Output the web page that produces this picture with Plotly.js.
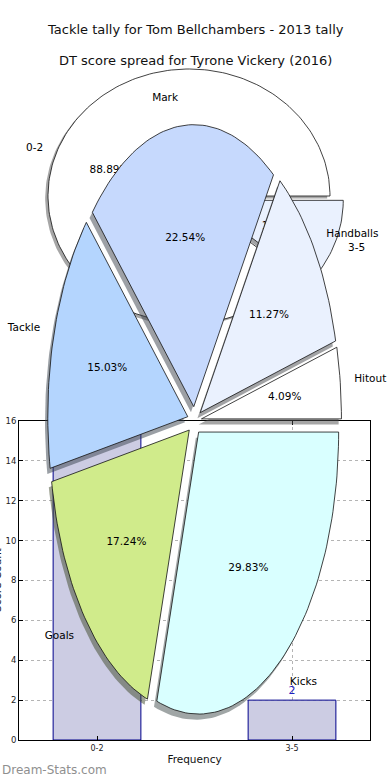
<!DOCTYPE html>
<html><head><meta charset="utf-8">
<script src="https://cdn.plot.ly/plotly-3.0.1.min.js"></script>
<style>html,body{margin:0;padding:0;background:#fff}#chart{width:390px;height:780px}</style>
</head><body><div id="chart"></div>
<script>
// ---- data ----
const titleMain = 'Tackle tally for Tom Bellchambers - 2013 tally';
const titleSub = 'DT score spread for Tyrone Vickery (2016)';

const statLabels = ['Hitout', 'Handballs', 'Mark', 'Tackle', 'Goals', 'Kicks'];
const statPcts = [4.09, 11.27, 22.54, 15.03, 17.24, 29.83];
const statColors = ['#ffffff', '#eaf1fe', '#c6d9fd', '#b4d5fe', '#d0eb8b', '#d9ffff'];
const statExplode = [0.05, 0.05, 0.05, 0.05, 0.05, 0.05];

const bins = ['0-2', '3-5'];
const binCounts = [16, 2];
const binPieColors = ['#ffffff', '#eaf1fe'];
const binExplode = [0, 0.1];

const xTitle = 'Frequency';
const yTitle = 'Score Count';
const watermark = 'Dream-Stats.com';

// ---- layout geometry (pixels) ----
const W = 390, H = 780;
const FONT = 'DejaVu Sans, sans-serif';
const backGeom = {cx: 189, cy: 196, rx: 141, ry: 127};
const frontGeom = {cx: 194.5, cy: 420.7, rx: 140, ry: 282};
const PIE_FONT = 10.5;

function hexRgb(h) {
  return [parseInt(h.slice(1,3),16), parseInt(h.slice(3,5),16), parseInt(h.slice(5,7),16)];
}

function pieTraces(values, labels, colors, explode, xa, ya) {
  const total = values.reduce((a, b) => a + b, 0);
  let start = 0;
  const shadows = [], wedges = [];
  const lab = {x: [], y: [], text: [], pos: []};
  const pct = {x: [], y: [], text: []};
  values.forEach((v, i) => {
    const frac = v / total;
    const t1 = start * 2 * Math.PI, t2 = (start + frac) * 2 * Math.PI;
    const tm = (t1 + t2) / 2;
    const ax = explode[i] * Math.cos(tm), ay = explode[i] * Math.sin(tm);
    const xs = [ax], ys = [ay];
    const n = Math.max(6, Math.ceil(frac * 240));
    for (let k = 0; k <= n; k++) {
      const t = t1 + (t2 - t1) * k / n;
      xs.push(ax + Math.cos(t)); ys.push(ay + Math.sin(t));
    }
    xs.push(ax); ys.push(ay);
    const c = hexRgb(colors[i]);
    shadows.push({
      type: 'scatter', mode: 'lines', xaxis: xa, yaxis: ya,
      x: xs.map(q => q - 0.02), y: ys.map(q => q - 0.02),
      fill: 'toself', fillcolor: `rgba(${Math.round(c[0]*0.3)},${Math.round(c[1]*0.3)},${Math.round(c[2]*0.3)},0.5)`,
      line: {width: 0}, hoverinfo: 'skip'
    });
    wedges.push({
      type: 'scatter', mode: 'lines', xaxis: xa, yaxis: ya,
      x: xs, y: ys, fill: 'toself', fillcolor: colors[i],
      line: {color: '#111', width: 0.8}, hoverinfo: 'skip'
    });
    const lx = ax + 1.1 * Math.cos(tm), ly = ay + 1.1 * Math.sin(tm);
    lab.x.push(lx); lab.y.push(ly); lab.text.push(labels[i]);
    lab.pos.push(lx > 0 ? 'middle right' : 'middle left');
    pct.x.push(ax + 0.6 * Math.cos(tm)); pct.y.push(ay + 0.6 * Math.sin(tm));
    pct.text.push((frac * 100).toFixed(2) + '%');
    start += frac;
  });
  const texts = [
    {type: 'scatter', mode: 'text', xaxis: xa, yaxis: ya, x: lab.x, y: lab.y, text: lab.text,
     textposition: lab.pos, textfont: {family: FONT, size: PIE_FONT, color: '#000'}, hoverinfo: 'skip'},
    {type: 'scatter', mode: 'text', xaxis: xa, yaxis: ya, x: pct.x, y: pct.y, text: pct.text,
     textposition: 'middle center', textfont: {family: FONT, size: PIE_FONT, color: '#000'}, hoverinfo: 'skip'}
  ];
  return shadows.concat(wedges, texts);
}

const backTraces = pieTraces(binCounts, bins, binPieColors, binExplode, 'x', 'y');
const frontTraces = pieTraces(statPcts, statLabels, statColors, statExplode, 'x3', 'y3');

const barTrace = {
  type: 'bar', xaxis: 'x2', yaxis: 'y2', x: bins, y: binCounts, width: 0.45,
  marker: {color: '#ccccE3', line: {color: '#00008b', width: 1}},
  text: binCounts.map(String), textposition: 'outside', cliponaxis: false,
  textfont: {family: FONT, size: 11, color: '#2020c0'}, constraintext: 'none', hoverinfo: 'skip'
};

function pieAxes(g) {
  return [
    {domain: [0, 1], range: [-g.cx / g.rx, (W - g.cx) / g.rx], visible: false, fixedrange: true},
    {domain: [0, 1], range: [-(H - g.cy) / g.ry, g.cy / g.ry], visible: false, fixedrange: true}
  ];
}
const [bx, by] = pieAxes(backGeom);
const [fx, fy] = pieAxes(frontGeom);

const layout = {
  width: W, height: H, margin: {l: 0, r: 0, t: 0, b: 0},
  paper_bgcolor: '#fff', plot_bgcolor: 'rgba(0,0,0,0)',
  showlegend: false, hovermode: false,
  font: {family: FONT, color: '#111'},
  xaxis: Object.assign({anchor: 'y'}, bx),
  yaxis: Object.assign({anchor: 'x'}, by),
  xaxis3: Object.assign({anchor: 'y3'}, fx),
  yaxis3: Object.assign({anchor: 'x3'}, fy),
  xaxis2: {
    domain: [19 / W, 370 / W], anchor: 'y2', type: 'category', categoryarray: bins,
    range: [-0.4, 1.4], showline: true, mirror: 'ticks', linecolor: '#000', linewidth: 1,
    ticks: 'inside', ticklen: 4, tickcolor: '#000', showgrid: true, gridcolor: '#b4b4b4',
    griddash: 'dot', gridwidth: 1, zeroline: false, tickfont: {size: 8, color: '#222'},
    title: {text: xTitle, font: {size: 10.5, color: '#111'}, standoff: 4}, automargin: false
  },
  yaxis2: {
    domain: [(H - 740) / H, (H - 421) / H], anchor: 'x2', range: [0, 16], dtick: 2,
    showline: true, mirror: 'ticks', linecolor: '#000', linewidth: 1,
    ticks: 'inside', ticklen: 4, tickcolor: '#000', showgrid: true, gridcolor: '#b4b4b4',
    griddash: 'dot', gridwidth: 1, zeroline: false, tickfont: {size: 8.5, color: '#222'},
    automargin: false
  },
  annotations: [
    {text: titleMain, xref: 'paper', yref: 'paper', x: 0.5, y: 1 - 30 / H, xanchor: 'center', yanchor: 'middle',
     showarrow: false, font: {size: 13, color: '#111'}},
    {text: titleSub, xref: 'paper', yref: 'paper', x: 0.5, y: 1 - 61 / H, xanchor: 'center', yanchor: 'middle',
     showarrow: false, font: {size: 13, color: '#111'}},
    {text: yTitle, xref: 'paper', yref: 'paper', x: -3 / W, y: 1 - 580 / H, xanchor: 'center', yanchor: 'middle',
     textangle: -90, showarrow: false, font: {size: 10.5, color: '#111'}},
    {text: watermark, xref: 'paper', yref: 'paper', x: 0, y: 1 - 770 / H, xanchor: 'left', yanchor: 'middle',
     showarrow: false, font: {size: 12, color: '#8f8f8f'}}
  ]
};

Plotly.newPlot('chart', backTraces.concat([barTrace], frontTraces), layout, {staticPlot: true, displayModeBar: false});
</script>
</body></html>
